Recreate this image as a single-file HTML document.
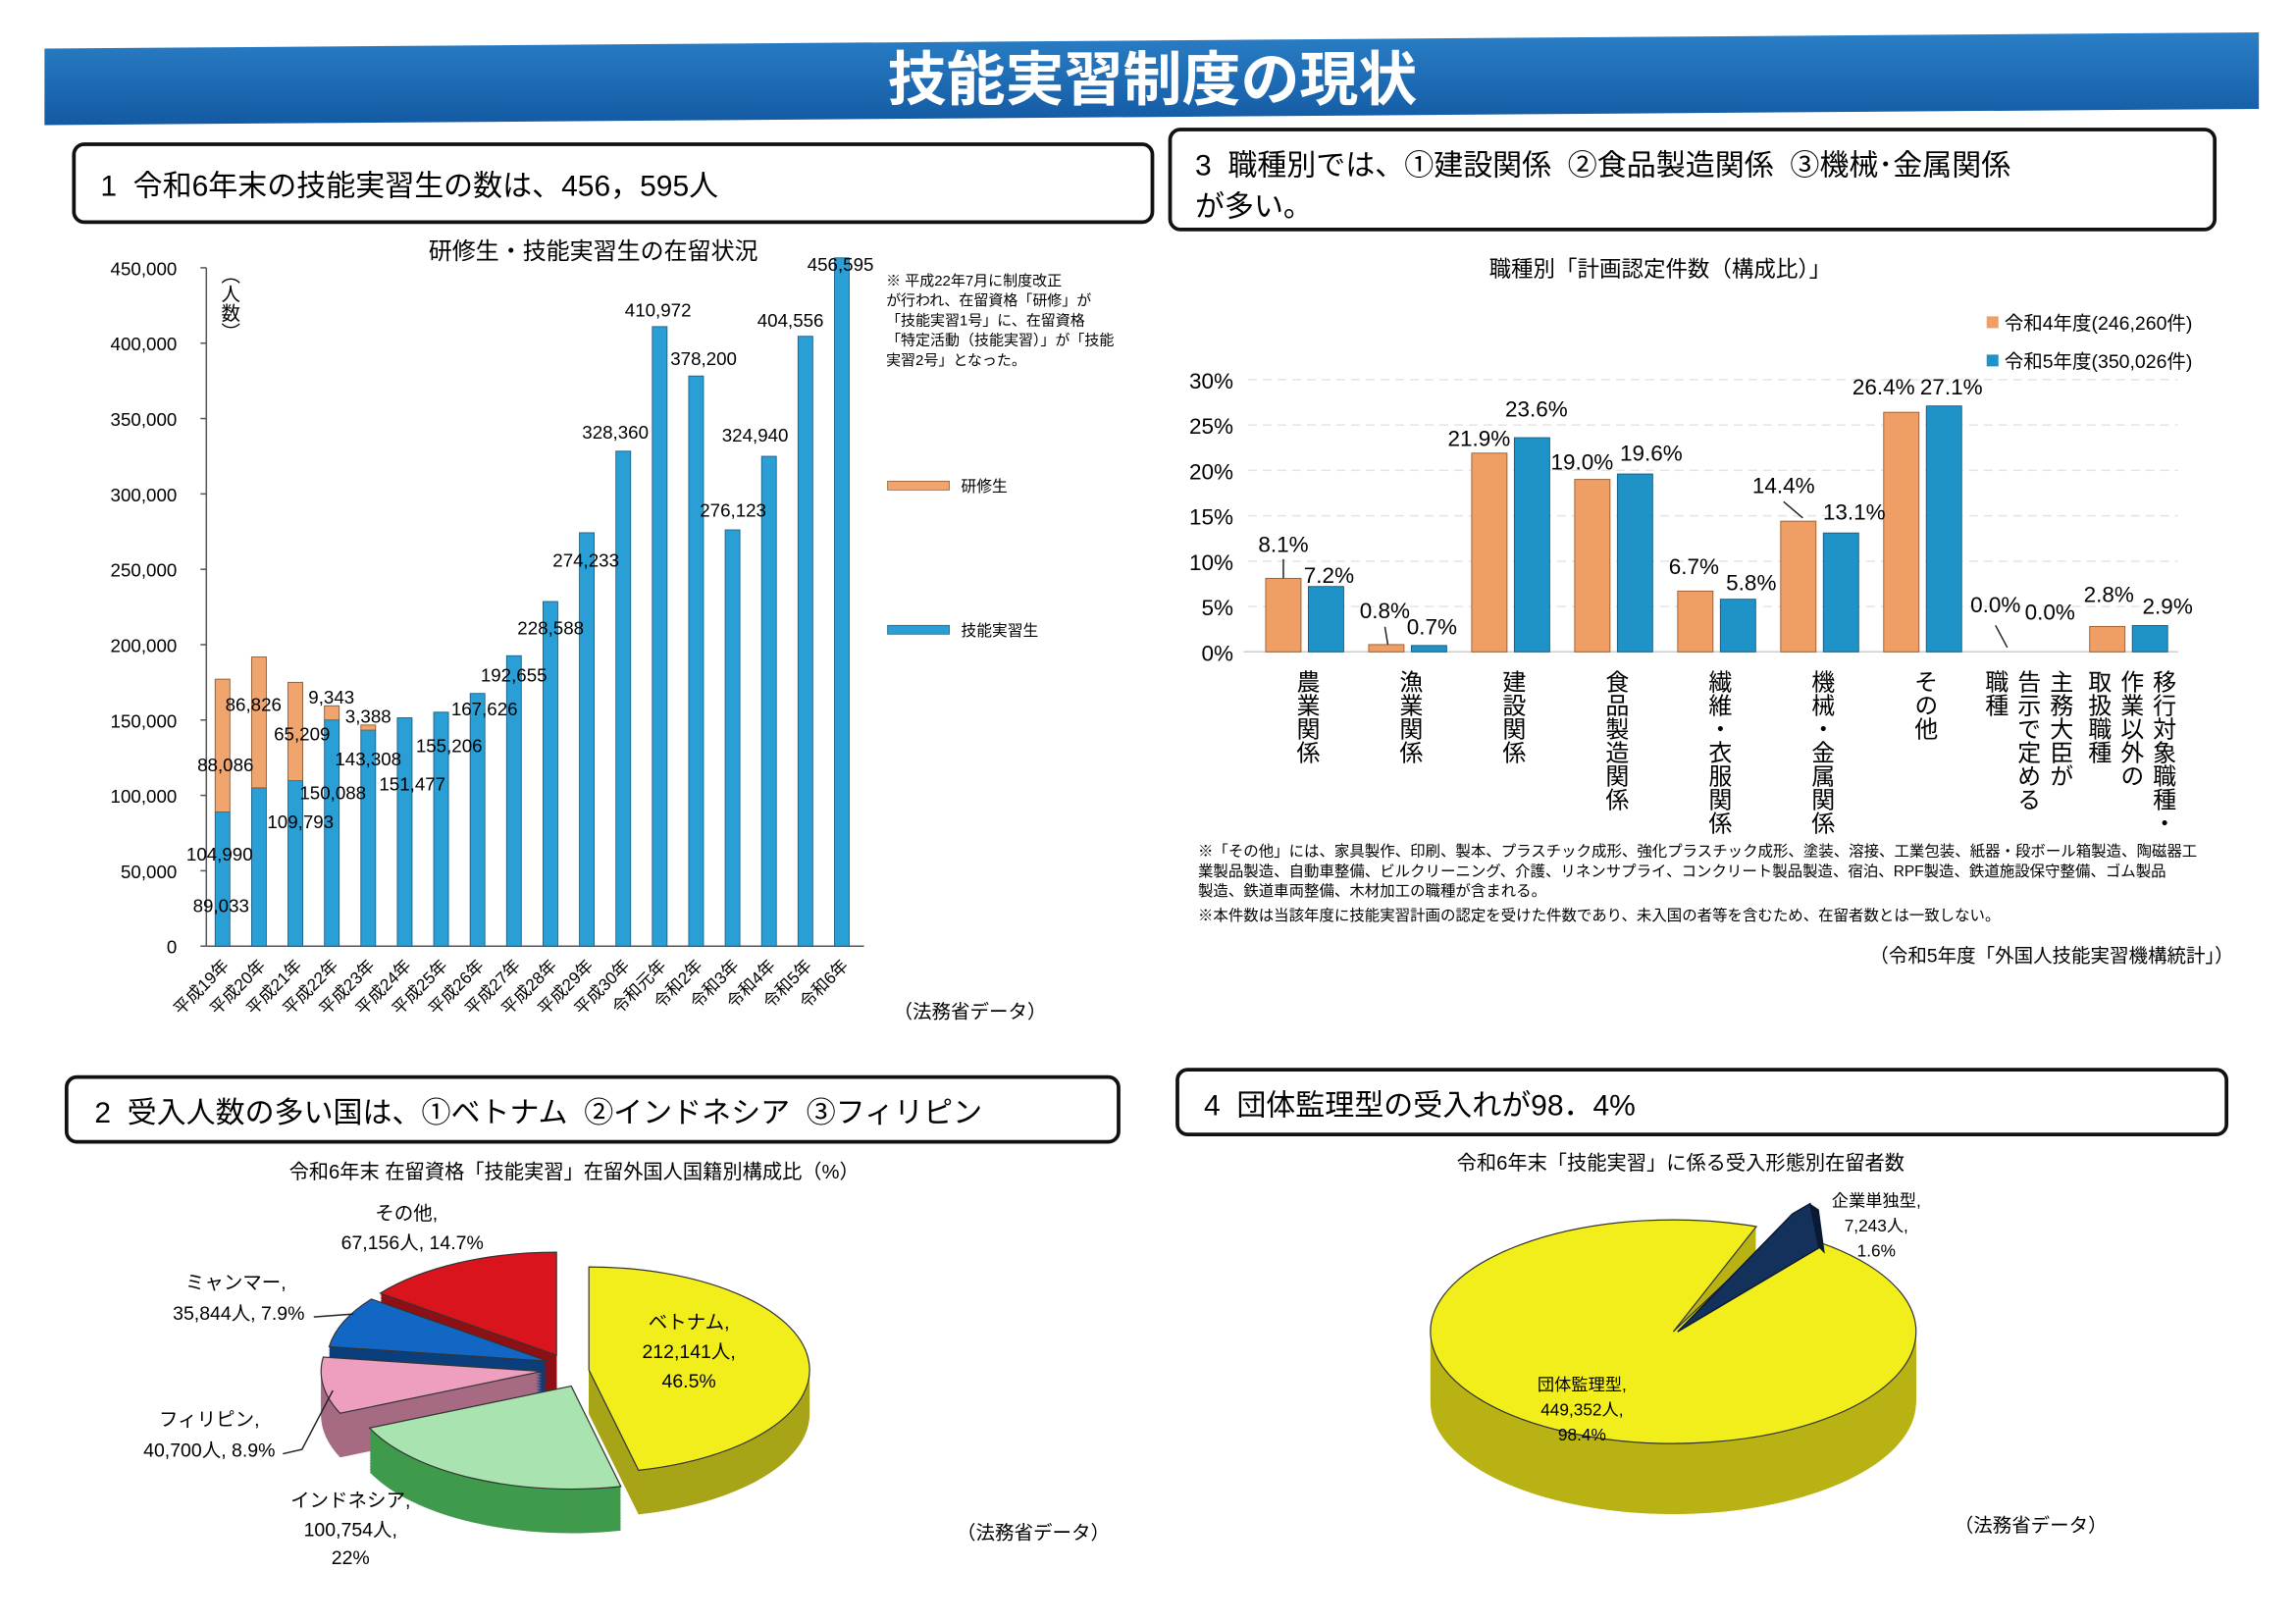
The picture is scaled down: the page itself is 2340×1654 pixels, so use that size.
<!DOCTYPE html>
<html><head><meta charset="utf-8">
<style>
html,body{margin:0;padding:0;background:#fff;}
svg{display:block;font-family:"Liberation Sans","Noto Sans CJK JP",sans-serif;}
</style></head>
<body>
<svg id="s" width="2340" height="1654" viewBox="0 0 1560 1103" xmlns="http://www.w3.org/2000/svg">
<defs>
<linearGradient id="tb" x1="0" y1="0" x2="0" y2="1"><stop offset="0" stop-color="#2a7fc6"/><stop offset="1" stop-color="#135aa3"/></linearGradient>
</defs>
<rect x="0" y="0" width="1560" height="1103" fill="#fff"/>
<polygon points="30,33 1535,22 1535,74 30,85" fill="url(#tb)"/>
<text x="783" y="68" font-size="40" font-weight="bold" fill="#fff" text-anchor="middle">技能実習制度の現状</text>

<rect x="50" y="98" width="733" height="53" rx="7" fill="none" stroke="#111" stroke-width="2.5"/>
<text x="68" y="133" font-size="20" xml:space="preserve">1  令和6年末の技能実習生の数は、456，595人</text>
<rect x="795" y="88" width="710" height="68" rx="7" fill="none" stroke="#111" stroke-width="2.5"/>
<text x="812" y="119" font-size="20" xml:space="preserve">3  職種別では、①建設関係  ②食品製造関係  ③機械･金属関係</text>
<text x="812" y="147" font-size="20">が多い。</text>
<rect x="45" y="732" width="715" height="44" rx="7" fill="none" stroke="#111" stroke-width="2.5"/>
<text x="64" y="763" font-size="20" xml:space="preserve">2  受入人数の多い国は、①ベトナム  ②インドネシア  ③フィリピン</text>
<rect x="800" y="727" width="713" height="44" rx="7" fill="none" stroke="#111" stroke-width="2.5"/>
<text x="818" y="758" font-size="20" xml:space="preserve">4  団体監理型の受入れが98．4%</text>

<g id="c1"></g>
<g id="c3"></g>
<g id="c2"></g>
<g id="c4"></g>
</svg>
<script>
const NS="http://www.w3.org/2000/svg";
function el(p,tag,attrs,txt){const e=document.createElementNS(NS,tag);for(const k in attrs)e.setAttribute(k,attrs[k]);if(txt!==undefined)e.textContent=txt;p.appendChild(e);return e;}
const c1=document.getElementById('c1');
el(c1,'text',{x:403,y:176,'font-size':16,'text-anchor':'middle'},'研修生・技能実習生の在留状況');
const Y=v=>643-v*461/450000;
for(let v=0;v<=450000;v+=50000){el(c1,'text',{x:120,y:Y(v)+5,'font-size':12.5,'text-anchor':'end'},v===0?'0':v.toLocaleString('en-US'));el(c1,'line',{x1:136,y1:Y(v),x2:140,y2:Y(v),stroke:'#555'});}
el(c1,'line',{x1:140,y1:182,x2:140,y2:643,stroke:'#555'});
el(c1,'line',{x1:140,y1:643,x2:587,y2:643,stroke:'#555'});
el(c1,'text',{x:155,y:180,'font-size':13,style:'writing-mode:vertical-rl'},'（人数）');
const cats=['平成19年','平成20年','平成21年','平成22年','平成23年','平成24年','平成25年','平成26年','平成27年','平成28年','平成29年','平成30年','令和元年','令和2年','令和3年','令和4年','令和5年','令和6年'];
const J=[89033,104990,109793,150088,143308,151477,155206,167626,192655,228588,274233,328360,410972,378200,276123,324940,404556,456595];
const K=[88086,86826,65209,9343,3388];
cats.forEach((c,i)=>{const x=151+i*24.76;const j=J[i];
 el(c1,'rect',{x:x-5,y:Y(j),width:10,height:643-Y(j),fill:'#2a9fd6',stroke:'#1d5f86','stroke-width':0.6});
 if(i<5){el(c1,'rect',{x:x-5,y:Y(j+K[i]),width:10,height:Y(j)-Y(j+K[i]),fill:'#f0a46e',stroke:'#8a5a30','stroke-width':0.6});}
 el(c1,'text',{x:x+5,y:657,'font-size':11.5,'text-anchor':'end',transform:`rotate(-45 ${x+5} 657)`},c);
});
const L1=[[150,620,'89,033'],[153,524,'88,086'],[149,585,'104,990'],[172,483,'86,826'],[204,563,'109,793'],[205,503,'65,209'],[226,543,'150,088'],[225,478,'9,343'],[250,520,'143,308'],[250,491,'3,388'],[280,537,'151,477'],[305,511,'155,206'],[329,486,'167,626'],[349,463,'192,655'],[374,431,'228,588'],[398,385,'274,233'],[418,298,'328,360'],[447,215,'410,972'],[478,248,'378,200'],[498,351,'276,123'],[513,300,'324,940'],[537,222,'404,556'],[571,184,'456,595']];
L1.forEach(a=>el(c1,'text',{x:a[0],y:a[1],'font-size':12.5,'text-anchor':'middle'},a[2]));
['※  平成22年7月に制度改正','が行われ、在留資格「研修」が','「技能実習1号」に、在留資格','「特定活動（技能実習）」が「技能','実習2号」となった。'].forEach((t,i)=>el(c1,'text',{x:602,y:194+i*13.5,'font-size':10},t));
el(c1,'rect',{x:603,y:327,width:42,height:6,fill:'#f0a46e',stroke:'#8a5a30','stroke-width':0.5});
el(c1,'text',{x:653,y:334,'font-size':10.5},'研修生');
el(c1,'rect',{x:603,y:425,width:42,height:6,fill:'#2a9fd6',stroke:'#1d5f86','stroke-width':0.5});
el(c1,'text',{x:653,y:432,'font-size':10.5},'技能実習生');
el(c1,'text',{x:607,y:692,'font-size':13},'（法務省データ）');
const c3=document.getElementById('c3');
el(c3,'text',{x:1128,y:188,'font-size':15,'text-anchor':'middle'},'職種別「計画認定件数（構成比）」');
const P=v=>443-v*185/30;
for(let v=0;v<=30;v+=5){el(c3,'text',{x:838,y:P(v)+6,'font-size':15,'text-anchor':'end'},v+'%');if(v>0)el(c3,'line',{x1:848,y1:P(v),x2:1480,y2:P(v),stroke:'#e4e4e4','stroke-dasharray':'6 4'});}
el(c3,'line',{x1:845,y1:443,x2:1480,y2:443,stroke:'#ccc'});
const O=[8.1,0.8,21.9,19.0,6.7,14.4,26.4,0,2.8],B=[7.2,0.7,23.6,19.6,5.8,13.1,27.1,0,2.9];
const labs=[['農業関係'],['漁業関係'],['建設関係'],['食品製造関係'],['繊維・衣服関係'],['機械・金属関係'],['その他'],['主務大臣が','告示で定める','職種'],['移行対象職種・','作業以外の','取扱職種']];
O.forEach((o,i)=>{const x=860+i*70;
 if(o>0)el(c3,'rect',{x:x,y:P(o),width:24,height:443-P(o),fill:'#ef9e66',stroke:'#9a5a2a','stroke-width':0.6});
 if(B[i]>0)el(c3,'rect',{x:x+29,y:P(B[i]),width:24,height:443-P(B[i]),fill:'#1f93c7',stroke:'#135a80','stroke-width':0.6});
 const cx=x+27;const l=labs[i];
 l.forEach((t,k)=>{const xx=l.length===1?cx:cx+22-k*22;el(c3,'text',{x:xx,y:455,'font-size':16,style:'writing-mode:vertical-rl'},t);});
});
const L3=[[872,375,'8.1%'],[903,396,'7.2%'],[941,420,'0.8%'],[973,431,'0.7%'],[1005,303,'21.9%'],[1044,283,'23.6%'],[1075,319,'19.0%'],[1122,313,'19.6%'],[1151,390,'6.7%'],[1190,401,'5.8%'],[1212,335,'14.4%'],[1260,353,'13.1%'],[1280,268,'26.4%'],[1326,268,'27.1%'],[1356,416,'0.0%'],[1393,421,'0.0%'],[1433,409,'2.8%'],[1473,417,'2.9%']];
L3.forEach(a=>el(c3,'text',{x:a[0],y:a[1],'font-size':15,'text-anchor':'middle'},a[2]));
[[872,380,872,393],[941,426,943,438],[1212,341,1225,352],[1356,425,1364,440]].forEach(a=>el(c3,'line',{x1:a[0],y1:a[1],x2:a[2],y2:a[3],stroke:'#222'}));
el(c3,'rect',{x:1350,y:215,width:8,height:8,fill:'#ef9e66'});
el(c3,'text',{x:1362,y:224,'font-size':13},'令和4年度(246,260件)');
el(c3,'rect',{x:1350,y:241,width:8,height:8,fill:'#1f93c7'});
el(c3,'text',{x:1362,y:250,'font-size':13},'令和5年度(350,026件)');
['※「その他」には、家具製作、印刷、製本、プラスチック成形、強化プラスチック成形、塗装、溶接、工業包装、紙器・段ボール箱製造、陶磁器工','  業製品製造、自動車整備、ビルクリーニング、介護、リネンサプライ、コンクリート製品製造、宿泊、RPF製造、鉄道施設保守整備、ゴム製品','  製造、鉄道車両整備、木材加工の職種が含まれる。','※本件数は当該年度に技能実習計画の認定を受けた件数であり、未入国の者等を含むため、在留者数とは一致しない。'].forEach((t,i)=>el(c3,'text',{x:814,y:582+i*13.5+(i===3?3:0),'font-size':10.3},t));
el(c3,'text',{x:1518,y:654,'font-size':13,'text-anchor':'end'},'（令和5年度「外国人技能実習機構統計」）');
function pt(cx,cy,rx,ry,a){const r=a*Math.PI/180;return [cx+rx*Math.sin(r),cy-ry*Math.cos(r)];}
function slice(g,cx,cy,rx,ry,a0,a1,fill,stroke){const p0=pt(cx,cy,rx,ry,a0),p1=pt(cx,cy,rx,ry,a1);const lg=(a1-a0)>180?1:0;
 return el(g,'path',{d:`M${cx},${cy} L${p0[0]},${p0[1]} A${rx},${ry} 0 ${lg} 1 ${p1[0]},${p1[1]} Z`,fill:fill,stroke:stroke||'none','stroke-width':0.8});}
function pie3d(g,cx,cy,rx,ry,d,a0,a1,top,side){for(let k=d;k>0;k-=1)slice(g,cx,cy+k,rx,ry,a0,a1,side);slice(g,cx,cy,rx,ry,a0,a1,top,'#333');}
const c2=document.getElementById('c2');
el(c2,'text',{x:390,y:801,'font-size':13.5,'text-anchor':'middle'},'令和6年末  在留資格「技能実習」在留外国人国籍別構成比（%）');
const rx=150,ry=70,dp=30;
pie3d(c2,378,921,rx,ry,dp,307,360,'#d9141c','#8e1015');
pie3d(c2,372,925,rx,ry,dp,278,307,'#1266c4','#0b3f7c');
pie3d(c2,368,932,rx,ry,dp,246,278,'#ee9fc0','#a66a82');
pie3d(c2,388,942,rx,ry,dp,167,246,'#a8e3b0','#3f9a4c');
pie3d(c2,400,931,rx,ry,dp,0,167,'#f2ee1c','#a8a418');
[[276,829,'その他,'],[280,849,'67,156人, 14.7%'],[160,876,'ミャンマー,'],[162,897,'35,844人, 7.9%'],[142,969,'フィリピン,'],[142,990,'40,700人, 8.9%'],[238,1024,'インドネシア,'],[238,1044,'100,754人,'],[238,1063,'22%'],[468,903,'ベトナム,'],[468,923,'212,141人,'],[468,943,'46.5%']].forEach(a=>el(c2,'text',{x:a[0],y:a[1],'font-size':13,'text-anchor':'middle'},a[2]));
el(c2,'polyline',{points:'213,895 240,893',fill:'none',stroke:'#222'});
el(c2,'polyline',{points:'192,988 205,985 226,945',fill:'none',stroke:'#222'});
el(c2,'text',{x:650,y:1046,'font-size':13},'（法務省データ）');
const c4=document.getElementById('c4');
el(c4,'text',{x:1142,y:795,'font-size':13.5,'text-anchor':'middle'},'令和6年末「技能実習」に係る受入形態別在留者数');
pie3d(c4,1137,905,165,76,48,26,360+20,'#f2ee1c','#b8b214');
el(c4,'polygon',{points:'1140,905 1218,825 1230,818 1236,848',fill:'#14315c',stroke:'#0a1a33'});
el(c4,'polygon',{points:'1230,818 1236,848 1240,852 1236,822',fill:'#0a1a33'});
[[1275,820,'企業単独型,'],[1275,837,'7,243人,'],[1275,854,'1.6%'],[1075,945,'団体監理型,'],[1075,962,'449,352人,'],[1075,979,'98.4%']].forEach(a=>el(c4,'text',{x:a[0],y:a[1],'font-size':11.5,'text-anchor':'middle'},a[2]));
el(c4,'text',{x:1328,y:1041,'font-size':13},'（法務省データ）');
</script>
</body></html>
